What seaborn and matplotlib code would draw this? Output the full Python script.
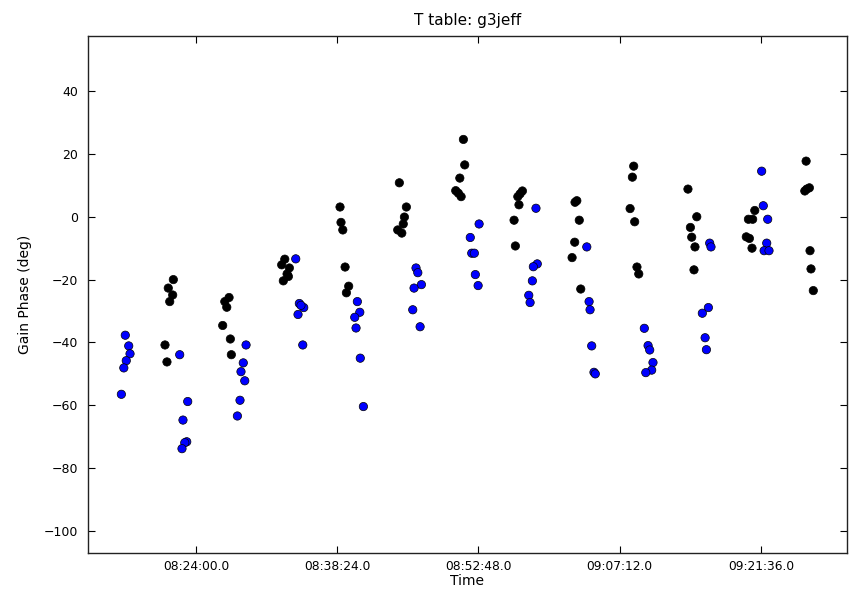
import matplotlib
matplotlib.use("Agg")
import matplotlib.pyplot as plt
import seaborn as sns
import pandas as pd

# ---- data ----
title = "T table: g3jeff"
xlabel = "Time"
ylabel = "Gain Phase (deg)"

black_time = [
    "08:21:41", "08:21:10", "08:21:37", "08:21:19", "08:20:50", "08:21:02",
    "08:27:22", "08:26:56", "08:27:08", "08:26:43", "08:27:30", "08:27:36",
    "08:33:03", "08:32:44", "08:33:31", "08:33:17", "08:33:25", "08:32:54",
    "08:38:41", "08:38:47", "08:38:58", "08:39:12", "08:39:34", "08:39:20",
    "08:44:44", "08:45:27", "08:45:15", "08:45:08", "08:44:34", "08:44:59",
    "08:51:16", "08:51:24", "08:50:54", "08:50:29", "08:50:45", "08:51:02",
    "08:57:17", "08:57:03", "08:56:49", "08:56:56", "08:56:26", "08:56:34",
    "09:02:50", "09:02:39", "09:03:05", "09:02:37", "09:02:21", "09:03:14",
    "09:08:38", "09:08:30", "09:08:16", "09:08:44", "09:08:58", "09:09:09",
    "09:14:10", "09:15:04", "09:14:25", "09:14:33", "09:14:53", "09:14:47",
    "09:20:59", "09:20:20", "09:20:46", "09:20:07", "09:20:26", "09:20:42",
    "09:26:13", "09:26:17", "09:26:33", "09:26:05", "09:26:37", "09:26:43", "09:26:57",
]
black_phase = [
    -20.0, -22.7, -24.9, -27.0, -40.8, -46.2,
    -25.7, -27.0, -28.8, -34.6, -38.9, -43.9,
    -13.5, -15.3, -16.3, -18.2, -19.0, -20.4,
    3.1, -1.8, -4.2, -16.0, -22.1, -24.2,
    10.8, 3.1, -0.1, -2.3, -4.2, -5.2,
    24.6, 16.5, 12.3, 8.3, 7.5, 6.4,
    8.2, 7.3, 6.4, 3.8, -1.1, -9.3,
    5.1, 4.6, -1.1, -8.1, -13.0, -23.0,
    16.1, 12.6, 2.6, -1.6, -16.0, -18.2,
    8.8, 0.0, -3.4, -6.5, -9.6, -16.9,
    2.0, -0.8, -0.8, -6.4, -6.9, -10.0,
    17.7, 8.8, 9.2, 8.2, -10.8, -16.6, -23.5,
]

blue_time = [
    "08:16:47", "08:17:08", "08:17:16", "08:16:53", "08:16:38", "08:16:23",
    "08:22:20", "08:23:09", "08:22:40", "08:23:03", "08:22:51", "08:22:34",
    "08:29:06", "08:28:49", "08:28:35", "08:28:58", "08:28:29", "08:28:13",
    "08:34:10", "08:34:32", "08:34:59", "08:34:42", "08:34:24", "08:34:53",
    "08:40:27", "08:40:42", "08:40:11", "08:40:19", "08:40:45", "08:41:04",
    "08:46:26", "08:46:37", "08:46:59", "08:46:14", "08:46:06", "08:46:51",
    "08:52:52", "08:51:58", "08:52:07", "08:52:23", "08:52:29", "08:52:46",
    "08:58:40", "08:58:48", "08:58:24", "08:58:18", "08:57:56", "08:58:04",
    "09:03:51", "09:04:05", "09:04:11", "09:04:21", "09:04:35", "09:04:43",
    "09:09:43", "09:10:06", "09:10:16", "09:10:36", "09:10:28", "09:09:52",
    "09:16:23", "09:16:31", "09:16:15", "09:15:38", "09:15:55", "09:16:03",
    "09:21:41", "09:21:51", "09:22:18", "09:22:12", "09:21:56", "09:22:26",
]
blue_phase = [
    -37.7, -41.1, -43.6, -45.8, -48.1, -56.5,
    -43.9, -58.8, -64.7, -71.6, -71.9, -73.8,
    -40.8, -46.5, -49.3, -52.2, -58.4, -63.4,
    -13.4, -27.6, -28.9, -28.2, -31.1, -40.8,
    -27.0, -30.4, -32.0, -35.4, -45.0, -60.4,
    -16.3, -17.8, -21.6, -22.7, -29.6, -35.0,
    -2.3, -6.6, -11.6, -11.6, -18.4, -21.9,
    2.7, -15.0, -15.9, -20.4, -25.0, -27.3,
    -9.6, -27.0, -29.6, -41.1, -49.5, -50.0,
    -35.5, -41.0, -42.4, -46.4, -48.8, -49.6,
    -8.4, -9.6, -28.9, -30.7, -38.5, -42.3,
    14.5, 3.5, -0.8, -8.4, -10.8, -10.8,
]

xtick_labels = ["08:24:00.0", "08:38:24.0", "08:52:48.0", "09:07:12.0", "09:21:36.0"]
yticks = [-100, -80, -60, -40, -20, 0, 20, 40]

DAY = "2000-01-01 "

df = pd.DataFrame({
    "time": pd.to_datetime([DAY + t for t in black_time + blue_time]),
    "phase": black_phase + blue_phase,
    "pol": ["black"] * len(black_time) + ["blue"] * len(blue_time),
})

# ---- style ----
plt.rcParams.update({
    "font.family": ["DejaVu Sans"],
    "xtick.direction": "in",
    "ytick.direction": "in",
    "xtick.top": True,
    "ytick.right": True,
    "xtick.major.size": 5,
    "ytick.major.size": 5,
    "xtick.major.pad": 5,
    "ytick.major.pad": 7,
    "axes.linewidth": 1.0,
    "axes.edgecolor": "#222222",
})

fig = plt.figure(figsize=(8.49, 5.91), dpi=100)
ax = fig.add_axes([0.1033, 0.0643, 0.8943, 0.8747])

sns.scatterplot(
    data=df, x="time", y="phase", hue="pol",
    palette={"black": "#000000", "blue": "#0000ff"},
    s=36, edgecolor="black", linewidth=0.5, legend=False, ax=ax, zorder=3,
)

ax.set_xlim(pd.Timestamp(DAY + "08:12:57"), pd.Timestamp(DAY + "09:30:23"))
ax.set_ylim(-107, 57.5)

xt = [pd.Timestamp(DAY + s[:8]) for s in xtick_labels]
ax.set_xticks(xt)
ax.set_xticklabels(xtick_labels, fontsize=8.8)
ax.set_yticks(yticks)
ax.set_yticklabels([str(v).replace("-", "\u2212") for v in yticks], fontsize=9)

ax.set_title(title, fontsize=11, pad=8)
ax.set_xlabel(xlabel, fontsize=10, labelpad=1)
ax.set_ylabel(ylabel, fontsize=10, labelpad=8)
ax.grid(False)
ax.set_facecolor("white")

fig.savefig("out.png", dpi=100, facecolor="white")
